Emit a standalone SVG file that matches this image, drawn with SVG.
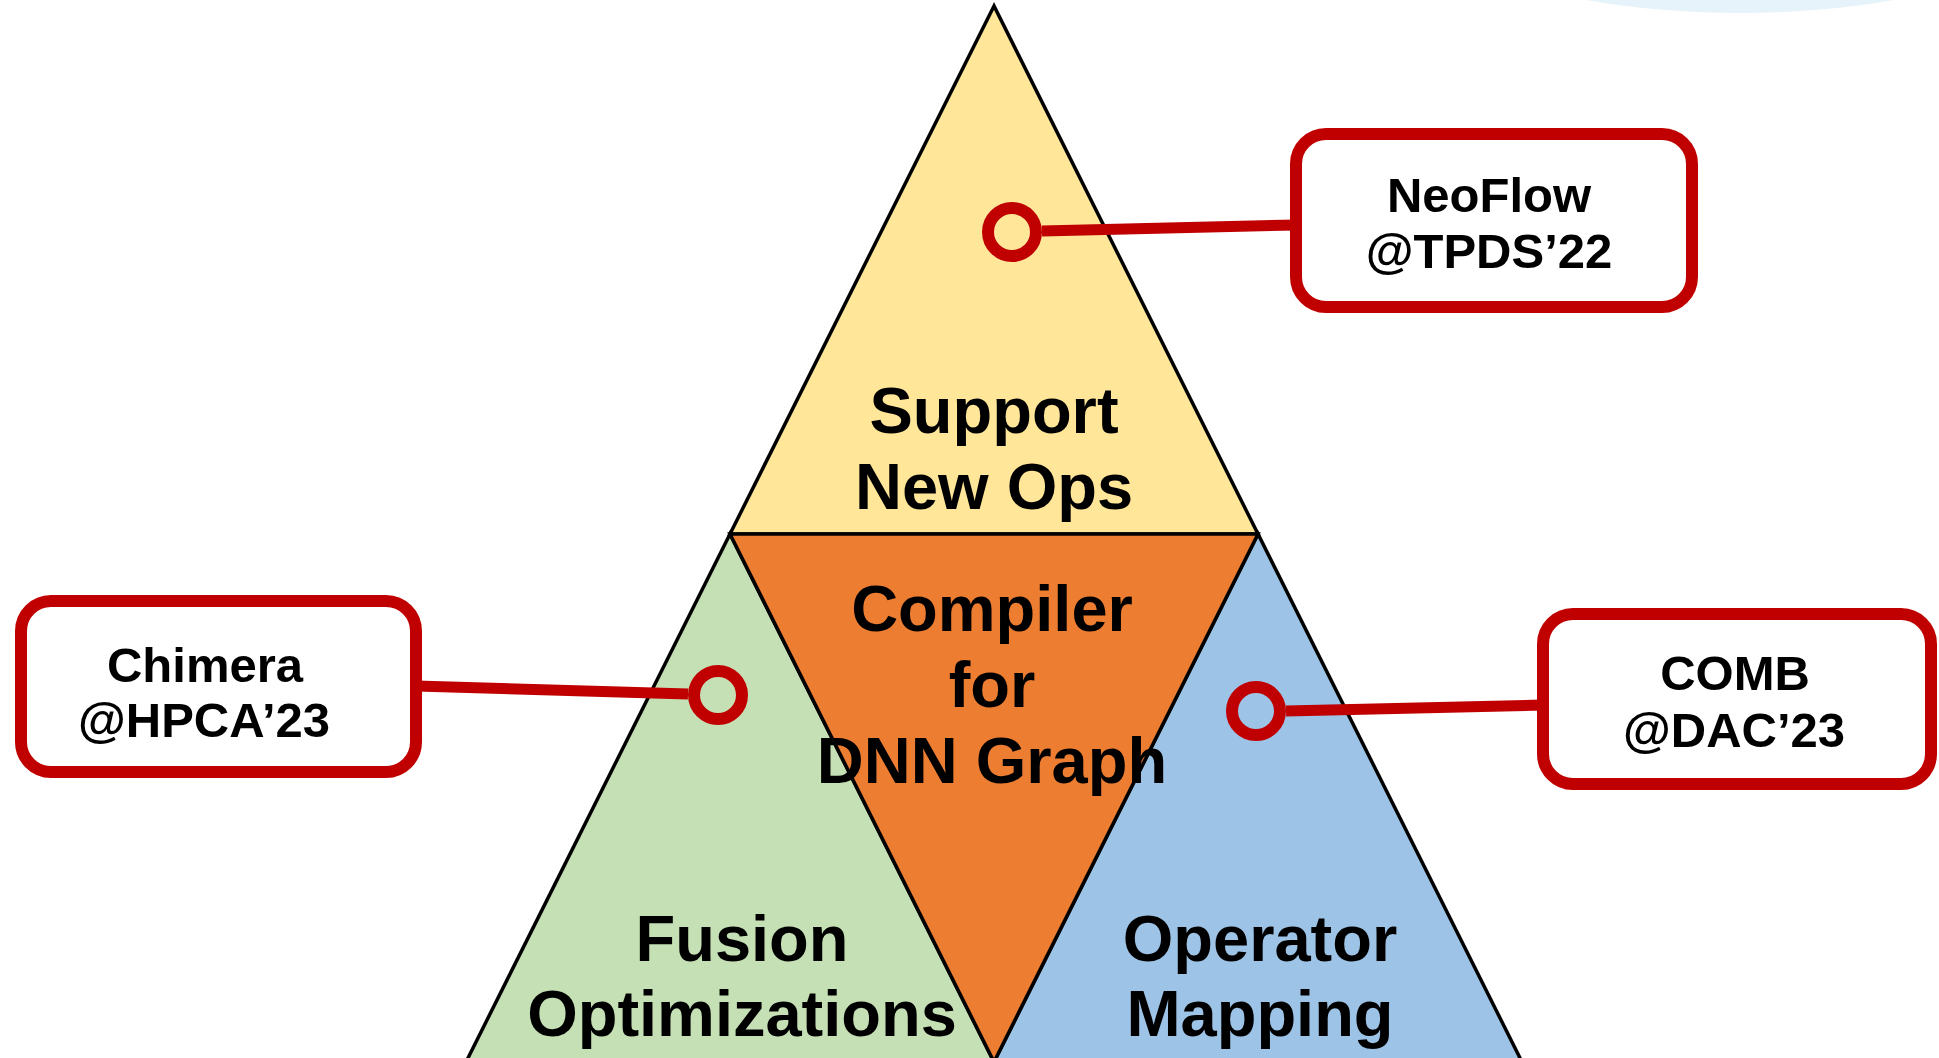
<svg xmlns="http://www.w3.org/2000/svg" width="1939" height="1058" viewBox="0 0 1939 1058">
<style>
.tri{stroke:#000;stroke-width:3.5;stroke-linejoin:miter}
.big{font-family:"Liberation Sans",Arial,sans-serif;font-weight:bold;font-size:65px;fill:#000;text-anchor:middle}
.lbl{font-family:"Liberation Sans",Arial,sans-serif;font-weight:bold;font-size:49px;fill:#000;text-anchor:middle}
.box{fill:#fff;stroke:#C00000;stroke-width:12}
.conn{stroke:#C00000;stroke-width:11;fill:none}
.ring{fill:none;stroke:#C00000;stroke-width:12}
</style>
<rect width="1939" height="1058" fill="#fff"/>
<ellipse cx="1740" cy="-100" rx="330" ry="113" fill="#e6f3fa"/>
<g id="top">
<polygon class="tri" points="994,6 730,534 1258,534" fill="#FFE699"/>
<text class="big" x="994" y="433">Support</text>
<text class="big" x="994" y="509">New Ops</text>
</g>
<g id="left">
<polygon class="tri" points="730,534 466,1062 994,1062" fill="#C5E0B4"/>
<text class="big" x="742" y="961">Fusion</text>
<text class="big" x="742" y="1036">Optimizations</text>
</g>
<g id="right">
<polygon class="tri" points="1258,534 994,1062 1522,1062" fill="#9DC3E6"/>
<text class="big" x="1260" y="961">Operator</text>
<text class="big" x="1260" y="1036">Mapping</text>
</g>
<g id="center">
<polygon class="tri" points="730,534 1258,534 994,1062" fill="#ED7D31"/>
<text class="big" x="992" y="631">Compiler</text>
<text class="big" x="992" y="707">for</text>
<text class="big" x="992" y="783">DNN Graph</text>
</g>
<g id="connectors">
<line class="conn" x1="1042" y1="231" x2="1296" y2="225"/>
<line class="conn" x1="416" y1="686" x2="688" y2="694"/>
<line class="conn" x1="1286" y1="711" x2="1543" y2="705"/>
<circle class="ring" cx="1012" cy="232" r="24"/>
<circle class="ring" cx="718" cy="695" r="24"/>
<circle class="ring" cx="1256" cy="711" r="24"/>
</g>
<g id="neoflow">
<rect class="box" x="1296" y="134" width="396" height="173" rx="30"/>
<text class="lbl" x="1489" y="212">NeoFlow</text>
<text class="lbl" x="1489" y="268">@TPDS’22</text>
</g>
<g id="chimera">
<rect class="box" x="21" y="601" width="395" height="171" rx="30"/>
<text class="lbl" x="205" y="682">Chimera</text>
<text class="lbl" x="204" y="737">@HPCA’23</text>
</g>
<g id="comb">
<rect class="box" x="1543" y="614" width="388" height="170" rx="30"/>
<text class="lbl" x="1735" y="690">COMB</text>
<text class="lbl" x="1734" y="747">@DAC’23</text>
</g>
</svg>
